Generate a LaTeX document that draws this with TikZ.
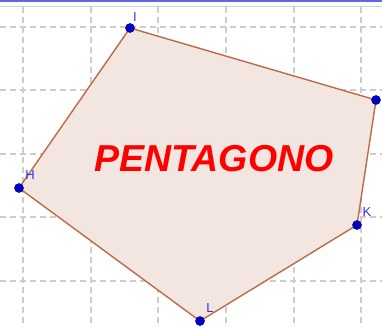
\documentclass[tikz,border=0pt]{standalone}
\usepackage{fontspec}
\setmainfont{Liberation Sans}
\usetikzlibrary{positioning}
\definecolor{cGrid}{RGB}{205,205,205}
\definecolor{cTop} {RGB}{100,100,225}
\definecolor{cFill}{RGB}{243,230,224}
\definecolor{cEdge}{RGB}{185,108,70}
\definecolor{cPt}  {RGB}{0,0,205}
\definecolor{cPtD} {RGB}{0,0,110}
\definecolor{cLbl} {RGB}{50,50,240}
\definecolor{cRed} {RGB}{255,0,0}
\tikzset{
  gridln/.style={cGrid,line width=1.1pt,dash pattern=on 6pt off 4pt},
  poly/.style={draw=cEdge,fill=cFill,line width=1.4pt,line join=round},
  vtx/.style={circle,fill=cPt,draw=cPtD,line width=0.5pt,minimum size=9pt,inner sep=0pt},
  lbl/.style={text=cLbl,font=\fontsize{13}{13}\selectfont,inner sep=0pt},
  ttl/.style={text=cRed,font=\fontsize{37.5}{37.5}\selectfont\bfseries\itshape,inner sep=0pt},
}

\begin{document}
\begin{tikzpicture}[x=1pt,y=-1pt]
  \useasboundingbox (0,0) rectangle (382,327);
  \fill[white] (0,0) rectangle (382,327);
  \draw[cTop,line width=2pt] (0,1) -- (382,1);
  \draw[gray!35,line width=1pt] (0,6) -- (382,6);
  \foreach \gx in {23,91,158,226,294,361}
    \draw[gridln] (\gx,7) -- (\gx,327);
  \foreach \gy in {27,90,154,217,281}
    \draw[gridln] (0,\gy) -- (382,\gy);

  \coordinate (I) at (130,28);
  \coordinate (J) at (376,100);
  \coordinate (K) at (357,225);
  \coordinate (L) at (200,321);
  \coordinate (H) at (19,188);
  \draw[poly] (I) -- (J) -- (K) -- (L) -- (H) -- cycle;

  \node[ttl] (title) at (214,158.5) {PENTAGONO};

  \foreach \p in {I,J,K,L,H}
    \node[vtx] (d\p) at (\p) {};
  \node[lbl] (lI) at (135,17)  {I};
  \node[lbl] (lJ) at (386,88)  {J};
  \node[lbl] (lK) at (367,212) {K};
  \node[lbl] (lL) at (210,308) {L};
  \node[lbl] (lH) at (30,175)  {H};
\end{tikzpicture}
\end{document}
